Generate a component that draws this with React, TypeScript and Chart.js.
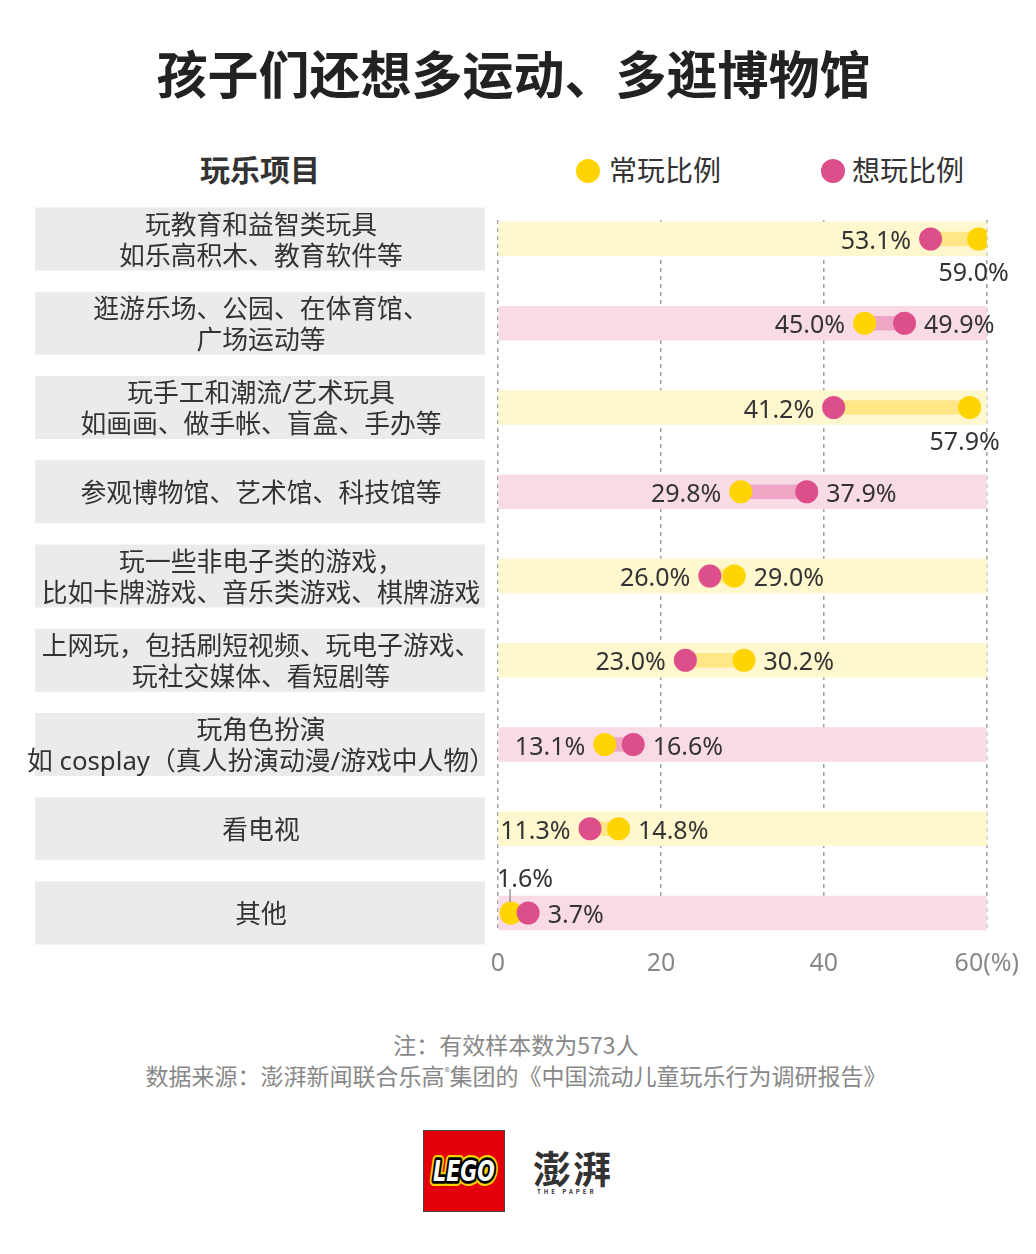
import React, { useEffect, useRef } from 'react';
import { Chart, registerables } from 'chart.js';

Chart.register(...registerables);

const categories = [
  '玩教育和益智类玩具\n如乐高积木、教育软件等',
  '逛游乐场、公园、在体育馆、\n广场运动等',
  '玩手工和潮流/艺术玩具\n如画画、做手帐、盲盒、手办等',
  '参观博物馆、艺术馆、科技馆等',
  '玩一些非电子类的游戏，\n比如卡牌游戏、音乐类游戏、棋牌游戏',
  '上网玩，包括刷短视频、玩电子游戏、\n玩社交媒体、看短剧等',
  '玩角色扮演\n如 cosplay（真人扮演动漫/游戏中人物）',
  '看电视',
  '其他',
];
const oftenPlay = [59.0, 45.0, 57.9, 29.8, 29.0, 30.2, 13.1, 14.8, 1.6];
const wantPlay = [53.1, 49.9, 41.2, 37.9, 26.0, 23.0, 16.6, 11.3, 3.7];
const xTicks = [0, 20, 40, 60];
const xTickLabels = ['0', '20', '40', '60(%)'];
const seriesNames = ['常玩比例', '想玩比例'];

const FONT = '"Noto Sans CJK SC", "Noto Sans", sans-serif';
const LATIN_FONT = '"Noto Sans", "Noto Sans CJK SC", sans-serif';
const YELLOW = '#FFD400';
const PINK = '#DD4F8B';
const YELLOW_BAND = '#FFF7CE';
const PINK_BAND = '#F9DBE6';
const YELLOW_LINK = '#FFE788';
const PINK_LINK = '#EEA6C4';
const TEXT = '#333333';

const rowLabelPlugin = {
  id: 'rowLabels',
  beforeDatasetsDraw(chart: any) {
    const { ctx, scales } = chart;
    const y = scales.y;
    ctx.save();
    categories.forEach((c, i) => {
      const cy = y.getPixelForValue(i);
      ctx.fillStyle = '#EBEBEB';
      ctx.fillRect(35, cy - 31.5, 450, 63);
      ctx.fillStyle = TEXT;
      ctx.font = `25.8px ${LATIN_FONT}`;
      ctx.textAlign = 'center';
      ctx.textBaseline = 'middle';
      const lines = c.split('\n');
      lines.forEach((l, k) => {
        ctx.fillText(l, 261, cy + 3 + (k - (lines.length - 1) / 2) * 31);
      });
    });
    ctx.restore();
  },
};

const valueLabelPlugin = {
  id: 'valueLabels',
  afterDatasetsDraw(chart: any) {
    const { ctx, scales } = chart;
    const x = scales.x;
    const y = scales.y;
    const r = 11.5;
    const gap = 8;
    ctx.save();
    ctx.font = `25px ${LATIN_FONT}`;
    ctx.fillStyle = TEXT;
    ctx.textBaseline = 'middle';
    oftenPlay.forEach((a, i) => {
      const b = wantPlay[i];
      const hi = Math.max(a, b);
      const lo = Math.min(a, b);
      const cy = y.getPixelForValue(i);
      const xHi = x.getPixelForValue(hi);
      const xLo = x.getPixelForValue(lo);
      const fmt = (v: number) => v.toFixed(1) + '%';
      if (lo < 3) {
        ctx.textAlign = 'left';
        ctx.fillText(fmt(lo), xLo - 14, cy - 33);
        ctx.strokeStyle = '#666';
        ctx.lineWidth = 1;
        ctx.beginPath();
        ctx.moveTo(xLo - 1, cy - 24);
        ctx.lineTo(xLo - 1, cy - 11);
        ctx.stroke();
      } else {
        ctx.textAlign = 'right';
        ctx.fillText(fmt(lo), xLo - r - gap, cy + 3);
      }
      if (hi > 55) {
        ctx.textAlign = 'center';
        ctx.fillText(fmt(hi), xHi - 5, cy + 35);
      } else {
        ctx.textAlign = 'left';
        ctx.fillText(fmt(hi), xHi + r + gap, cy + 3);
      }
    });
    ctx.restore();
  },
};

function DumbbellChart() {
  const ref = useRef<HTMLCanvasElement>(null);
  useEffect(() => {
    if (!ref.current) return;
    const oftenWins = oftenPlay.map((v, i) => v >= wantPlay[i]);
    const chart = new Chart(ref.current, {
      type: 'bar',
      data: {
        datasets: [
          {
            type: 'scatter',
            label: seriesNames[1],
            data: wantPlay.map((v, i) => ({ x: v, y: i })),
            backgroundColor: PINK,
            borderWidth: 0,
            pointRadius: 11.5,
            pointHoverRadius: 11.5,
            order: 0,
          } as any,
          {
            type: 'scatter',
            label: seriesNames[0],
            data: oftenPlay.map((v, i) => ({ x: v, y: i })),
            backgroundColor: YELLOW,
            borderWidth: 0,
            pointRadius: 11.5,
            pointHoverRadius: 11.5,
            order: 1,
          } as any,
          {
            type: 'bar',
            label: 'link',
            indexAxis: 'y',
            grouped: false,
            barThickness: 14,
            data: oftenPlay.map((v, i) => ({ x: [v, wantPlay[i]], y: i })),
            backgroundColor: oftenWins.map((w) => (w ? YELLOW_LINK : PINK_LINK)),
            borderWidth: 0,
            order: 2,
          } as any,
          {
            type: 'bar',
            label: 'band',
            indexAxis: 'y',
            grouped: false,
            barThickness: 34,
            data: oftenPlay.map((v, i) => ({ x: [xTicks[0], xTicks[xTicks.length - 1]], y: i })),
            backgroundColor: oftenWins.map((w) => (w ? YELLOW_BAND : PINK_BAND)),
            borderWidth: 0,
            order: 3,
          } as any,
        ],
      },
      options: {
        animation: false,
        responsive: false,
        maintainAspectRatio: false,
        layout: { padding: { top: 30, left: 498, right: 47, bottom: 18 } },
        plugins: { legend: { display: false }, tooltip: { enabled: false } },
        scales: {
          x: {
            type: 'linear',
            position: 'bottom',
            offset: false,
            min: xTicks[0],
            max: xTicks[xTicks.length - 1],
            afterBuildTicks: (scale: any) => {
              scale.ticks = xTicks.map((v) => ({ value: v }));
            },
            afterFit: (scale: any) => {
              scale.height = 50;
            },
            ticks: {
              padding: 17,
              color: '#888888',
              font: { size: 25, family: LATIN_FONT },
              maxRotation: 0,
              callback: (v: any) => xTickLabels[xTicks.indexOf(Number(v))] ?? '',
            },
            grid: { color: '#A0A0A0', lineWidth: 1.5, drawTicks: false, offset: false },
            border: { display: false, dash: [4, 4] },
          },
          y: {
            type: 'linear',
            display: false,
            offset: false,
            grid: { offset: false },
            reverse: true,
            min: -0.2255,
            max: categories.length - 1 + 0.2255,
          },
        },
      } as any,
      plugins: [rowLabelPlugin, valueLabelPlugin],
    });
    return () => chart.destroy();
  }, []);
  return (
    <canvas
      ref={ref}
      width={1036}
      height={810}
      style={{ position: 'absolute', left: 0, top: 190, width: 1036, height: 810 }}
    />
  );
}

export default function App() {
  const dot = (color: string, left: number, top: number) => (
    <div
      style={{
        position: 'absolute',
        left: left - 12,
        top: top - 12,
        width: 24,
        height: 24,
        borderRadius: 12,
        background: color,
      }}
    />
  );
  return (
    <div
      style={{
        position: 'absolute',
        left: 0,
        top: 0,
        width: 1036,
        height: 1254,
        background: '#fff',
        fontFamily: FONT,
        color: TEXT,
        overflow: 'hidden',
      }}
    >
      <div
        style={{
          position: 'absolute',
          left: 0,
          top: 42,
          width: 1027,
          textAlign: 'center',
          fontSize: 51,
          fontWeight: 700,
          lineHeight: '60px',
          color: '#222',
        }}
      >
        孩子们还想多运动、多逛博物馆
      </div>
      <div
        style={{
          position: 'absolute',
          left: 160,
          width: 200,
          top: 148,
          textAlign: 'center',
          fontSize: 30,
          fontWeight: 700,
          lineHeight: '40px',
        }}
      >
        玩乐项目
      </div>
      {dot(YELLOW, 588, 171)}
      <div style={{ position: 'absolute', left: 609, top: 149, fontSize: 28, lineHeight: '40px' }}>
        {seriesNames[0]}
      </div>
      {dot(PINK, 833, 171)}
      <div style={{ position: 'absolute', left: 852, top: 149, fontSize: 28, lineHeight: '40px' }}>
        {seriesNames[1]}
      </div>
      <DumbbellChart />
      <div
        style={{
          position: 'absolute',
          left: 0,
          width: 1032,
          top: 1029,
          textAlign: 'center',
          fontSize: 23,
          lineHeight: '31px',
          color: '#888',
        }}
      >
        注：有效样本数为573人
        <br />
        数据来源：澎湃新闻联合乐高<sup style={{ fontSize: 11, verticalAlign: '9px', lineHeight: 0 }}>®</sup>
        集团的《中国流动儿童玩乐行为调研报告》
      </div>
      <div
        style={{
          position: 'absolute',
          left: 423,
          top: 1130,
          width: 82,
          height: 82,
          background: '#E3000B',
          boxSizing: 'border-box',
          border: '1px solid #444',
        }}
      >
        <svg width="80" height="80" viewBox="0 0 80 80">
          <g fontFamily="DejaVu Sans, sans-serif" fontWeight="bold" fontStyle="italic" fontSize="28" textAnchor="middle">
            <text x="40" y="50" fill="none" stroke="#FFD500" strokeWidth="10" strokeLinejoin="round" textLength="62" lengthAdjust="spacingAndGlyphs">LEGO</text>
            <text x="40" y="50" fill="none" stroke="#000" strokeWidth="5.5" strokeLinejoin="round" textLength="62" lengthAdjust="spacingAndGlyphs">LEGO</text>
            <text x="40" y="50" fill="#fff" textLength="62" lengthAdjust="spacingAndGlyphs">LEGO</text>
          </g>
        </svg>
      </div>
      <div
        style={{
          position: 'absolute',
          left: 533,
          top: 1144,
          fontSize: 38,
          fontWeight: 700,
          lineHeight: '46px',
          color: '#333',
          letterSpacing: 2,
        }}
      >
        澎湃
      </div>
      <div
        style={{
          position: 'absolute',
          left: 537,
          top: 1188,
          fontSize: 6,
          lineHeight: '8px',
          letterSpacing: 3,
          color: '#333',
          fontWeight: 700,
        }}
      >
        THE PAPER
      </div>
    </div>
  );
}
